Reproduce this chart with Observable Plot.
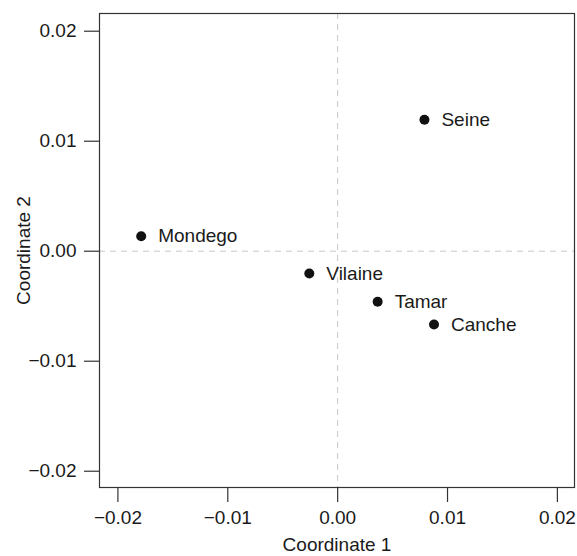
<!DOCTYPE html>
<html>
<head>
<meta charset="utf-8">
<script src="https://cdn.jsdelivr.net/npm/d3@7"></script>
<script src="https://cdn.jsdelivr.net/npm/@observablehq/plot@0.6"></script>
<style>
  html, body { margin: 0; padding: 0; background: #fff; }
  svg { display: block; }
</style>
</head>
<body>
<div id="chart"></div>
<script>
const rivers = ["Seine", "Mondego", "Vilaine", "Tamar", "Canche"];
const coord1 = [0.0079, -0.01788, -0.00258, 0.00364, 0.00877];
const coord2 = [0.01195, 0.00136, -0.00203, -0.0046, -0.00666];
const xTicks = [-0.02, -0.01, 0.00, 0.01, 0.02];
const yTicks = [-0.02, -0.01, 0.00, 0.01, 0.02];

const data = rivers.map((name, i) => ({name, x: coord1[i], y: coord2[i]}));
const fmt = d3.format(".2f");
const font = "'Liberation Sans', Arial, Helvetica, sans-serif";

const chart = Plot.plot({
  width: 577,
  height: 556,
  marginLeft: 99,
  marginRight: 3,
  marginTop: 13,
  marginBottom: 69,
  style: {fontFamily: font, fontSize: "19px", color: "#1a1a1a", background: "#fff"},
  x: {domain: [-0.021676, 0.021557]},
  y: {domain: [-0.02148, 0.02161]},
  marks: [
    Plot.ruleX([0], {stroke: "#c8c8c8", strokeDasharray: "6,5", strokeWidth: 1}),
    Plot.ruleY([0], {stroke: "#c8c8c8", strokeDasharray: "6,5", strokeWidth: 1}),
    Plot.frame({stroke: "#333", strokeWidth: 1.2}),
    Plot.axisX({ticks: xTicks, tickFormat: fmt, tickSize: 15, tickPadding: 8, stroke: "#333",
      strokeWidth: 1.2, fontSize: 19, label: "Coordinate 1", labelAnchor: "center", labelArrow: "none", labelOffset: 63}),
    Plot.axisY({ticks: yTicks, tickFormat: fmt, tickSize: 15, tickPadding: 8, stroke: "#333",
      strokeWidth: 1.2, fontSize: 19, label: "Coordinate 2", labelAnchor: "center", labelArrow: "none", labelOffset: 83}),
    Plot.dot(data, {x: "x", y: "y", r: 5, fill: "#111", stroke: "none"}),
    Plot.text(data, {x: "x", y: "y", text: "name", dx: 17, textAnchor: "start", fontSize: 19, fill: "#1a1a1a"})
  ]
});
document.getElementById("chart").appendChild(chart);
</script>
</body>
</html>
